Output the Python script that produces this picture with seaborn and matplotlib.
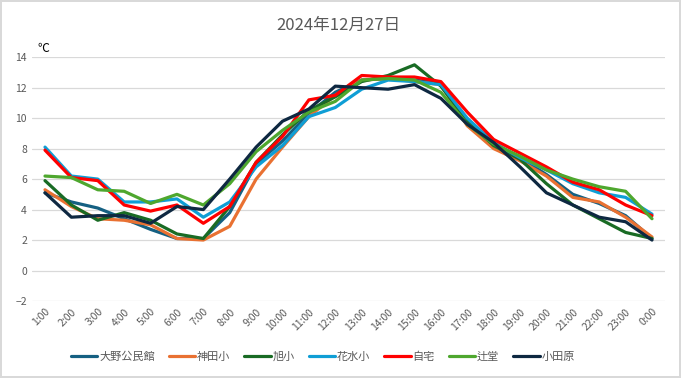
import pandas as pd
import numpy as np
import seaborn as sns
import matplotlib.pyplot as plt

hours = [f"{h}:00" for h in range(1, 24)] + ["0:00"]
stations = ["大野公民館", "神田小", "旭小", "花水小", "自宅", "辻堂", "小田原"]
colors = ["#156082", "#E97132", "#196B24", "#0F9ED5", "#FF0000", "#4EA72E", "#0E2841"]

oono = [5.1, 4.5, 4.1, 3.4, 2.7, 2.1, 2.1, 3.8, 7.0, 8.5, 10.3, 11.7,
        12.5, 12.6, 12.5, 12.3, 9.8, 8.3, 7.4, 6.3, 5.0, 4.4, 3.6, 2.1]
kanda = [5.3, 4.2, 3.4, 3.3, 3.0, 2.1, 2.0, 2.9, 6.0, 8.1, 10.1, 11.5,
         12.5, 12.6, 12.4, 12.2, 9.5, 8.0, 7.2, 6.2, 4.8, 4.5, 3.5, 2.2]
asahi = [5.9, 4.3, 3.3, 3.8, 3.3, 2.4, 2.1, 4.2, 7.1, 8.9, 10.5, 11.4,
         12.4, 12.8, 13.5, 12.1, 9.8, 8.2, 7.3, 5.7, 4.3, 3.4, 2.5, 2.1]
hanamizu = [8.1, 6.2, 6.0, 4.5, 4.5, 4.7, 3.5, 4.5, 6.8, 8.2, 10.1, 10.7,
            11.9, 12.5, 12.4, 12.2, 10.0, 8.4, 7.4, 6.6, 5.7, 5.1, 4.8, 3.7]
jitaku = [7.9, 6.1, 5.9, 4.3, 3.9, 4.3, 3.1, 4.2, 7.1, 8.8, 11.2, 11.5,
          12.8, 12.7, 12.7, 12.4, 10.4, 8.6, 7.7, 6.8, 5.8, 5.3, 4.3, 3.6]
tsujido = [6.2, 6.1, 5.3, 5.2, 4.4, 5.0, 4.3, 5.7, 7.8, 9.2, 10.4, 11.1,
           12.5, 12.6, 12.5, 11.7, 9.6, 8.3, 7.5, 6.6, 6.0, 5.5, 5.2, 3.4]
odawara = [5.1, 3.5, 3.6, 3.6, 3.1, 4.2, 4.0, 6.0, 8.1, 9.8, 10.6, 12.1,
           12.0, 11.9, 12.2, 11.3, 9.6, 8.4, 6.8, 5.1, 4.3, 3.5, 3.2, 2.0]

series = [oono, kanda, asahi, hanamizu, jitaku, tsujido, odawara]

rows = []
for name, vals in zip(stations, series):
    for i, v in enumerate(vals):
        rows.append({"pos": i, "time": hours[i], "station": name, "temp": v})
df = pd.DataFrame(rows)

sns.set_style("white")
plt.rcParams["font.family"] = ["Noto Sans CJK JP", "DejaVu Sans"]

fig = plt.figure(figsize=(6.81, 3.78), dpi=100)
fig.patch.set_edgecolor("#D9D9D9")
fig.patch.set_linewidth(1.5)
ax = fig.add_axes([31.8 / 681, 1 - 301 / 378, (665.2 - 31.8) / 681, (301 - 57.2) / 378])

sns.lineplot(data=df, x="pos", y="temp", hue="station", hue_order=stations,
             palette=colors, linewidth=2.3, legend=False, ax=ax)

ax.set_xlim(-0.5, 23.5)
ax.set_ylim(-2, 14)
ax.set_yticks(range(-2, 15, 2))
ax.set_xticks(range(24))
ax.set_xticklabels(hours, rotation=45, ha="right", rotation_mode="anchor")
ax.tick_params(axis="both", labelsize=7.5, colors="#595959", length=0)
ax.tick_params(axis="x", pad=4)
ax.grid(axis="y", color="#D9D9D9", linewidth=0.9)
ax.set_axisbelow(True)
for s in ax.spines.values():
    s.set_visible(False)
ax.set_xlabel("")
ax.set_ylabel("")

fig.text(0.497, 1 - 25 / 378, "2024年12月27日", ha="center", va="center",
         fontsize=12, color="#595959")
fig.text(37 / 681, 1 - 48 / 378, "℃", ha="left", va="center", fontsize=8.5, color="black")

handles = [plt.Line2D([], [], color=c, linewidth=2.3) for c in colors]
fig.legend(handles, stations, loc="center", bbox_to_anchor=(0.474, 1 - 357 / 378),
           ncol=7, frameon=False, fontsize=8, handlelength=2.4, handletextpad=0.15,
           columnspacing=1.25, labelcolor="#595959")

fig.savefig("out.png", dpi=100, edgecolor=fig.get_edgecolor())
